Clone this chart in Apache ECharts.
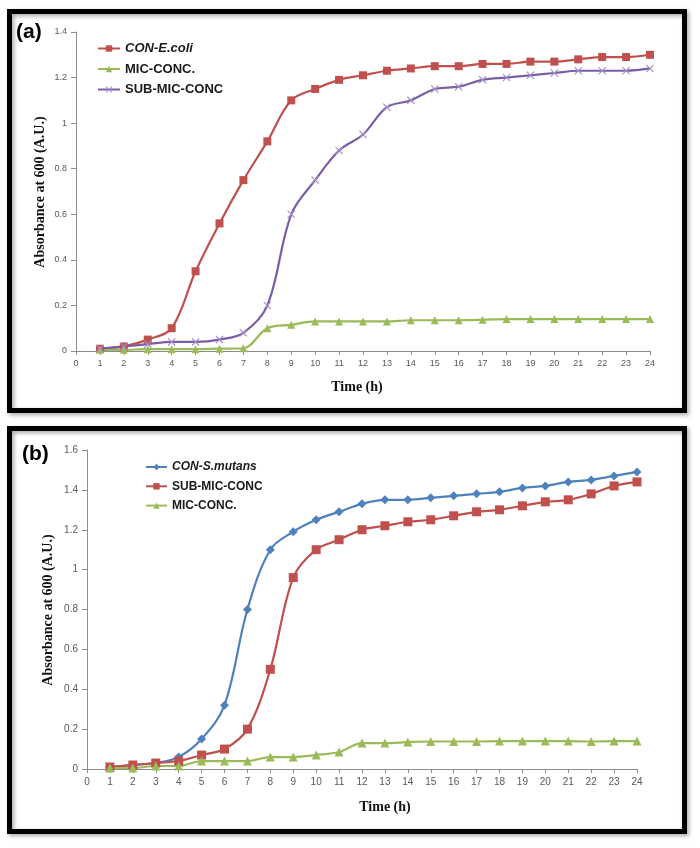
<!DOCTYPE html>
<html>
<head>
<meta charset="utf-8">
<script src="https://cdn.jsdelivr.net/npm/echarts@6/dist/echarts.min.js"></script>
<style>html,body{margin:0;padding:0;background:#fff}#c{width:700px;height:848px}</style>
</head>
<body>
<div id="c"></div>
<script>
// ---------- Data ----------
const hours = [1,2,3,4,5,6,7,8,9,10,11,12,13,14,15,16,17,18,19,20,21,22,23,24];
const xTicks = [0,1,2,3,4,5,6,7,8,9,10,11,12,13,14,15,16,17,18,19,20,21,22,23,24];

// Panel (a) E. coli
const aConEcoli = [0.01,0.02,0.05,0.10,0.35,0.56,0.75,0.92,1.10,1.15,1.19,1.21,1.23,1.24,1.25,1.25,1.26,1.26,1.27,1.27,1.28,1.29,1.29,1.30];
const aMic      = [0.005,0.005,0.008,0.008,0.008,0.01,0.012,0.10,0.115,0.13,0.13,0.13,0.13,0.135,0.135,0.135,0.137,0.14,0.14,0.14,0.14,0.14,0.14,0.14];
const aSubMic   = [0.01,0.02,0.03,0.04,0.04,0.05,0.08,0.20,0.60,0.75,0.88,0.95,1.07,1.10,1.15,1.16,1.19,1.20,1.21,1.22,1.23,1.23,1.23,1.24];
const aYTicks = [0,0.2,0.4,0.6,0.8,1,1.2,1.4];

// Panel (b) S. mutans
const bConSmutans = [0.01,0.02,0.03,0.06,0.15,0.32,0.80,1.10,1.19,1.25,1.29,1.33,1.35,1.35,1.36,1.37,1.38,1.39,1.41,1.42,1.44,1.45,1.47,1.49];
const bSubMic     = [0.01,0.02,0.03,0.04,0.07,0.10,0.20,0.50,0.96,1.10,1.15,1.20,1.22,1.24,1.25,1.27,1.29,1.30,1.32,1.34,1.35,1.38,1.42,1.44];
const bMic        = [0.005,0.005,0.015,0.015,0.04,0.04,0.04,0.06,0.06,0.07,0.085,0.13,0.13,0.135,0.138,0.138,0.138,0.14,0.14,0.14,0.14,0.138,0.14,0.14];
const bYTicks = [0,0.2,0.4,0.6,0.8,1,1.2,1.4,1.6];

const aNames = ['CON-E.coli','MIC-CONC.','SUB-MIC-CONC'];
const bNames = ['CON-S.mutans','SUB-MIC-CONC ','MIC-CONC. '];
const italicNames = ['CON-E.coli','CON-S.mutans'];

// ---------- Styles ----------
const RED = '#C0504D', GREEN = '#9BBB59', PURPLE = '#7B5EA7', BLUE = '#4F81BD';
const crossPath = 'path://M0,1L1,0L5,4L9,0L10,1L6,5L10,9L9,10L5,6L1,10L0,9L4,5Z';
const axisGray = '#8C8C8C';
const labelGray = '#595959';

function pairs(vals){ return hours.map((h,i)=>[h, vals[i]]); }

function xAxisFor(grid, fs){
  return {
    type:'value', gridIndex:grid, min:xTicks[0], max:xTicks[xTicks.length-1], interval:1,
    axisLine:{show:true, lineStyle:{color:axisGray, width:1}},
    axisTick:{show:true, length:4, lineStyle:{color:axisGray}},
    axisLabel:{color:labelGray, fontSize:fs, fontFamily:'Liberation Sans, Arial', margin:8},
    splitLine:{show:false}
  };
}
function yAxisFor(grid, ticks, fs){
  return {
    type:'value', gridIndex:grid, min:ticks[0], max:ticks[ticks.length-1], interval:0.2,
    axisLine:{show:true, lineStyle:{color:axisGray, width:1}},
    axisTick:{show:true, length:5, lineStyle:{color:axisGray}},
    axisLabel:{color:labelGray, fontSize:fs, fontFamily:'Liberation Sans, Arial', margin:9,
      formatter: v => String(Math.round(v*10)/10)},
    splitLine:{show:false}
  };
}
function lineSeries(name, data, color, symbol, size, xi, markerColor){
  return {
    name, type:'line', xAxisIndex:xi, yAxisIndex:xi, data:pairs(data),
    smooth:0.35, symbol, symbolSize:size, showSymbol:true,
    lineStyle:{color, width:2.2},
    itemStyle:{color: markerColor || color, borderWidth:0},
    z: 3, animation:false
  };
}
function legendFor(names, left, top, fs, gap, iw){
  return {
    data:names, orient:'vertical', left, top, itemWidth:iw, itemHeight:8, itemGap:gap,
    padding:0, selectedMode:false,
    formatter: n => italicNames.includes(n) ? '{i|'+n.trim()+'}' : '{n|'+n.trim()+'}',
    textStyle:{
      rich:{
        i:{fontStyle:'italic', fontWeight:'bold', fontSize:fs, color:'#1a1a1a', fontFamily:'Liberation Sans, Arial'},
        n:{fontWeight:'bold', fontSize:fs, color:'#1a1a1a', fontFamily:'Liberation Sans, Arial'}
      }
    }
  };
}

const chart = echarts.init(document.getElementById('c'), null, {renderer:'canvas'});
const serifBold = {fontFamily:'Liberation Serif, Times New Roman, serif', fontWeight:'bold', fontSize:14, fill:'#111'};
const frameStyle = {fill:'none', stroke:'#000', lineWidth:5, shadowBlur:4, shadowColor:'rgba(0,0,0,0.35)', shadowOffsetX:2, shadowOffsetY:2};

chart.setOption({
  animation:false,
  backgroundColor:'#fff',
  grid:[
    {left:76, top:32, right:50, bottom:497, containLabel:false},
    {left:87, top:450, right:63, bottom:79, containLabel:false}
  ],
  xAxis:[xAxisFor(0,9), xAxisFor(1,10)],
  yAxis:[yAxisFor(0,aYTicks,9), yAxisFor(1,bYTicks,10)],
  legend:[legendFor(aNames, 97, 42, 13, 7.5, 22), legendFor(bNames, 145, 461, 12, 7.3, 21)],
  series:[
    lineSeries(aNames[0], aConEcoli, RED, 'rect', 8, 0),
    lineSeries(aNames[1], aMic, GREEN, 'triangle', 8, 0),
    lineSeries(aNames[2], aSubMic, PURPLE, crossPath, 8, 0, '#A48FC8'),
    lineSeries(bNames[0], bConSmutans, BLUE, 'diamond', 9, 1),
    lineSeries(bNames[1], bSubMic, RED, 'rect', 9, 1),
    lineSeries(bNames[2], bMic, GREEN, 'triangle', 9, 1)
  ],
  graphic:[
    {type:'rect', shape:{x:9.5, y:11.5, width:675, height:399}, style:frameStyle, z:10},
    {type:'rect', shape:{x:9.5, y:428.5, width:675, height:403}, style:frameStyle, z:10},
    {type:'text', left:16, top:22, style:{text:'(a)', fontFamily:'Liberation Sans, Arial', fontWeight:'bold', fontSize:21, fill:'#000'}},
    {type:'text', left:22, top:444, style:{text:'(b)', fontFamily:'Liberation Sans, Arial', fontWeight:'bold', fontSize:21, fill:'#000'}},
    {type:'text', x:357, y:387, style:Object.assign({text:'Time (h)', align:'center', verticalAlign:'middle'}, serifBold)},
    {type:'text', x:385, y:807, style:Object.assign({text:'Time (h)', align:'center', verticalAlign:'middle'}, serifBold)},
    {type:'text', x:40, y:192, rotation:Math.PI/2, style:Object.assign({text:'Absorbance at 600 (A.U.)', align:'center', verticalAlign:'middle'}, serifBold)},
    {type:'text', x:48, y:610, rotation:Math.PI/2, style:Object.assign({text:'Absorbance at 600 (A.U.)', align:'center', verticalAlign:'middle'}, serifBold)}
  ]
});
</script>
</body>
</html>
